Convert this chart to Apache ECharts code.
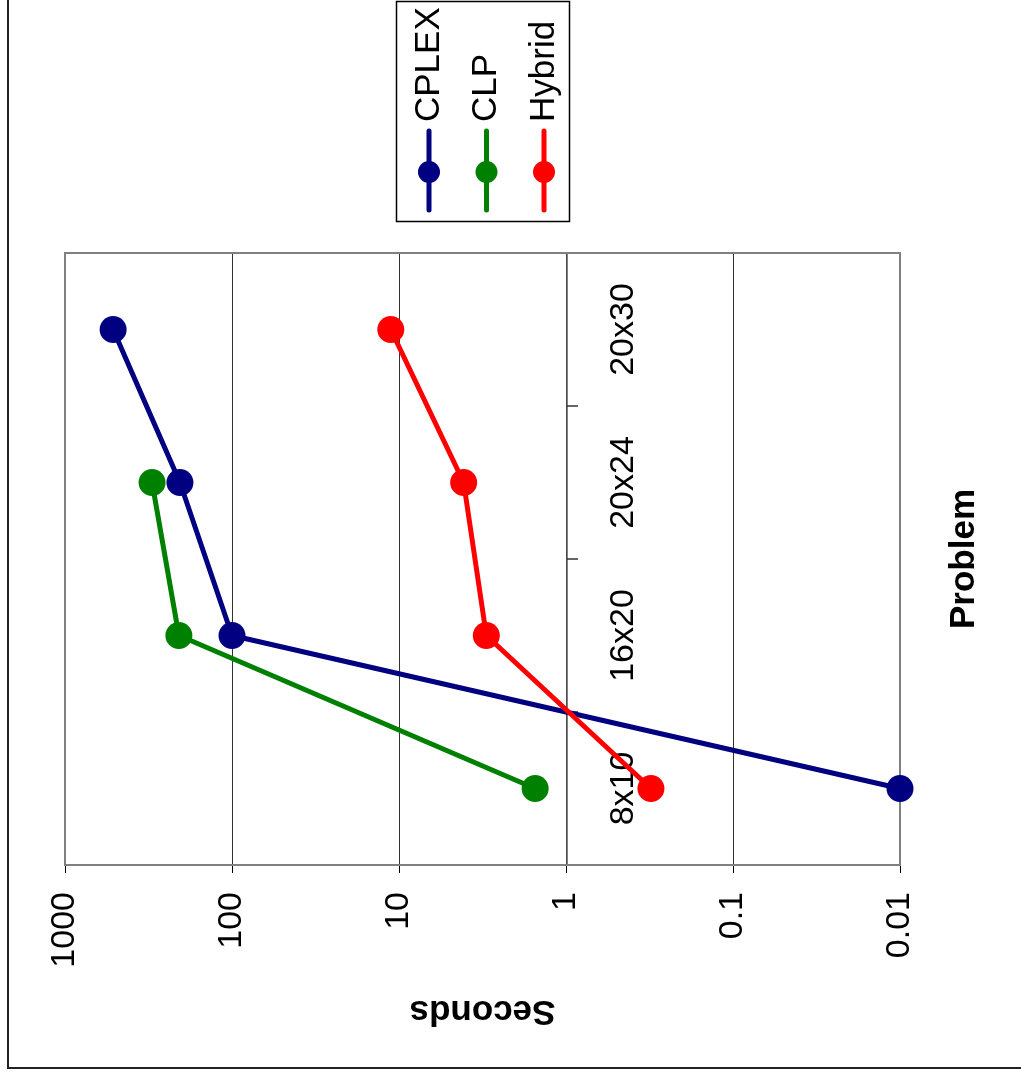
<!DOCTYPE html>
<html>
<head>
<meta charset="utf-8">
<style>
  html, body { margin: 0; padding: 0; background: #fff; }
  #chart { width: 1021px; height: 1079px; }
</style>
<script src="https://cdn.jsdelivr.net/npm/echarts@6/dist/echarts.min.js"></script>
</head>
<body>
<div id="chart"></div>
<script>
// data
const problems = ["8x10", "16x20", "20x24", "20x30"];
const cplex = [0.01, 100, 205, 515];
const clp = [1.53, 208, 301, null];
const hybrid = [0.31, 3.0, 4.1, 11.2];

const seriesNames = ["CPLEX", "CLP", "Hybrid"];
const seriesColors = ["#000080", "#008000", "#ff0000"];
const seriesValues = [cplex, clp, hybrid];

const FONT = "'Liberation Sans', Arial, sans-serif";

const chart = echarts.init(document.getElementById("chart"));

// pairs [seconds, problem] for the horizontal log axis
function toPairs(values) {
  const out = [];
  values.forEach((v, i) => {
    if (v !== null) out.push([v, problems[i]]);
  });
  return out;
}

// legend drawn by hand: the whole chart is turned on its side
function legendGraphic() {
  const items = [
    {
      type: "rect",
      shape: { x: 396.5, y: 1.5, width: 173, height: 220 },
      style: { fill: "#fff", stroke: "#000", lineWidth: 1.5 },
    },
  ];
  seriesNames.forEach((name, i) => {
    const x = 429 + i * 57.5;
    items.push({
      type: "line",
      shape: { x1: x, y1: 131, x2: x, y2: 210 },
      style: { stroke: seriesColors[i], lineWidth: 5, lineCap: "round" },
    });
    items.push({
      type: "circle",
      shape: { cx: x, cy: 172, r: 11 },
      style: { fill: seriesColors[i] },
    });
    items.push({
      type: "text",
      x: x,
      y: 122,
      rotation: Math.PI / 2,
      style: {
        text: name,
        font: "35px " + FONT,
        fill: "#000",
        align: "left",
        verticalAlign: "middle",
      },
    });
  });
  return items;
}

const option = {
  backgroundColor: "#fff",
  animation: false,
  grid: {
    left: 65,
    right: 121,
    top: 253,
    bottom: 214,
    show: true,
    borderColor: "#808080",
    borderWidth: 2,
    z: 3,
  },
  xAxis: {
    type: "log",
    logBase: 10,
    min: 0.01,
    max: 1000,
    inverse: true,
    name: "Seconds",
    nameLocation: "middle",
    nameRotate: 180,
    nameGap: 128,
    nameTextStyle: {
      fontFamily: FONT,
      fontSize: 35,
      fontWeight: "bold",
      color: "#000",
    },
    axisLine: { show: true, lineStyle: { color: "#808080", width: 2 } },
    axisTick: { show: true, length: 8, lineStyle: { color: "#000", width: 1 } },
    axisLabel: {
      rotate: 90,
      margin: 27,
      fontFamily: FONT,
      fontSize: 34,
      color: "#000",
      formatter: (v) => String(v),
    },
    splitLine: { show: true, lineStyle: { color: "#333", width: 1 } },
  },
  yAxis: {
    type: "category",
    data: problems,
    position: "right",
    offset: -333,
    name: "Problem",
    nameLocation: "middle",
    nameRotate: 90,
    nameGap: 380,
    nameTextStyle: {
      fontFamily: FONT,
      fontSize: 35,
      fontWeight: "bold",
      color: "#000",
    },
    axisLine: { show: true, lineStyle: { color: "#555", width: 1.5 } },
    axisTick: { show: true, length: 11, lineStyle: { color: "#333", width: 1.5 } },
    axisLabel: {
      rotate: 90,
      margin: 40,
      fontFamily: FONT,
      fontSize: 34,
      color: "#000",
    },
    splitLine: { show: false },
  },
  series: seriesNames.map((name, i) => ({
    name: name,
    type: "line",
    data: toPairs(seriesValues[i]),
    symbol: "circle",
    symbolSize: 27,
    z: 5,
    lineStyle: { color: seriesColors[i], width: 5 },
    itemStyle: { color: seriesColors[i] },
  })),
  graphic: [
    {
      type: "line",
      shape: { x1: 8, y1: 0, x2: 8, y2: 1068 },
      style: { stroke: "#222", lineWidth: 2 },
    },
    {
      type: "line",
      shape: { x1: 7, y1: 1068, x2: 1021, y2: 1068 },
      style: { stroke: "#222", lineWidth: 2 },
    },
    ...legendGraphic(),
  ],
};

chart.setOption(option);
window.addEventListener("resize", () => chart.resize());
</script>
</body>
</html>
